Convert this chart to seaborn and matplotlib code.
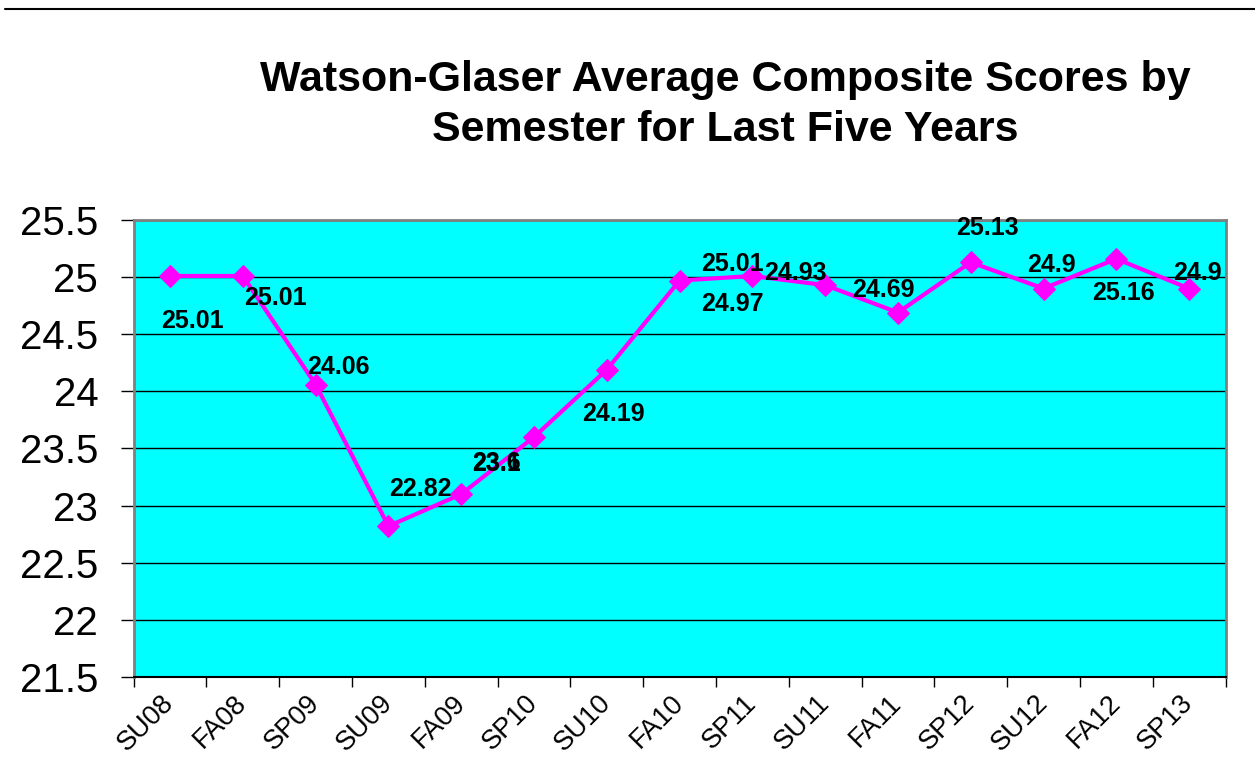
import pandas as pd
import matplotlib
matplotlib.use("Agg")
import matplotlib.pyplot as plt
import seaborn as sns
from matplotlib.lines import Line2D

# data
semesters = ["SU08", "FA08", "SP09", "SU09", "FA09", "SP10", "SU10", "FA10",
             "SP11", "SU11", "FA11", "SP12", "SU12", "FA12", "SP13"]
scores = [25.01, 25.01, 24.06, 22.82, 23.1, 23.6, 24.19, 24.97,
          25.01, 24.93, 24.69, 25.13, 24.9, 25.16, 24.9]
y_ticks = [21.5, 22, 22.5, 23, 23.5, 24, 24.5, 25, 25.5]

# where excel dropped each data label (pixels from the point, y up)
label_offsets = [(22, -45), (33, -22), (23, 18), (32, 37), (35, 30),
                 (-38, -26), (7, -44), (53, -23), (-20, 12), (-30, 12),
                 (-15, 23), (17, 34), (8, 24), (7, -34), (8, 16)]

df = pd.DataFrame({"semester": semesters, "score": scores})
df["pos"] = range(len(df))

sns.set_style("white")
plt.rcParams["font.family"] = ["Liberation Sans", "DejaVu Sans"]
plt.rcParams["text.color"] = "black"
plt.rcParams["xtick.color"] = "black"
plt.rcParams["ytick.color"] = "black"

fig = plt.figure(figsize=(12.55, 7.76), dpi=100)
ax = fig.add_axes([0.1065, 0.1276, 0.87, 0.5889])
ax.set_facecolor("#00FFFF")

sns.lineplot(data=df, x="pos", y="score", ax=ax, color="#FF00FF",
             linewidth=3, marker="D", markersize=11,
             markeredgecolor="#FF00FF", zorder=3)

for i, (v, off) in enumerate(zip(scores, label_offsets)):
    ax.annotate(f"{v:g}", (i, v), xytext=off, textcoords="offset pixels",
                ha="center", va="center", fontsize=18, fontweight="bold",
                color="black", zorder=4)

# axes + grid
ax.set_ylim(21.5, 25.5)
ax.set_yticks(y_ticks)
ax.set_yticklabels([f"{t:g}" for t in y_ticks], fontsize=29)
ax.yaxis.grid(True, color="black", linewidth=1)
ax.set_axisbelow(True)
ax.tick_params(axis="y", direction="out", length=9.5, width=1,
               color="black", pad=16, left=True)

ax.set_xlim(-0.5, len(semesters) - 0.5)
ax.set_xticks(df["pos"])
ax.set_xticklabels(semesters, fontsize=19.5, rotation=45, ha="right",
                   va="center", rotation_mode="anchor")
ax.set_xticks([p - 0.5 for p in range(len(semesters) + 1)], minor=True)
ax.tick_params(axis="x", which="major", length=0, pad=16)
ax.tick_params(axis="x", which="minor", direction="out", length=7.5,
               width=1, color="black", bottom=True)

ax.set_xlabel("")
ax.set_ylabel("")

for side in ["top", "right", "left"]:
    ax.spines[side].set_color("#808080")
    ax.spines[side].set_linewidth(2)
ax.spines["bottom"].set_color("black")
ax.spines["bottom"].set_linewidth(1.5)

fig.text(0.578, 0.865, "Watson-Glaser Average Composite Scores by\nSemester for Last Five Years",
         ha="center", va="center", fontsize=31, fontweight="bold",
         color="black", linespacing=1.32)

# rule across the top of the slide
fig.add_artist(Line2D([0.004, 1.0], [0.988, 0.988], color="black",
                      linewidth=1.5, transform=fig.transFigure))

fig.savefig("out.png", dpi=100)
